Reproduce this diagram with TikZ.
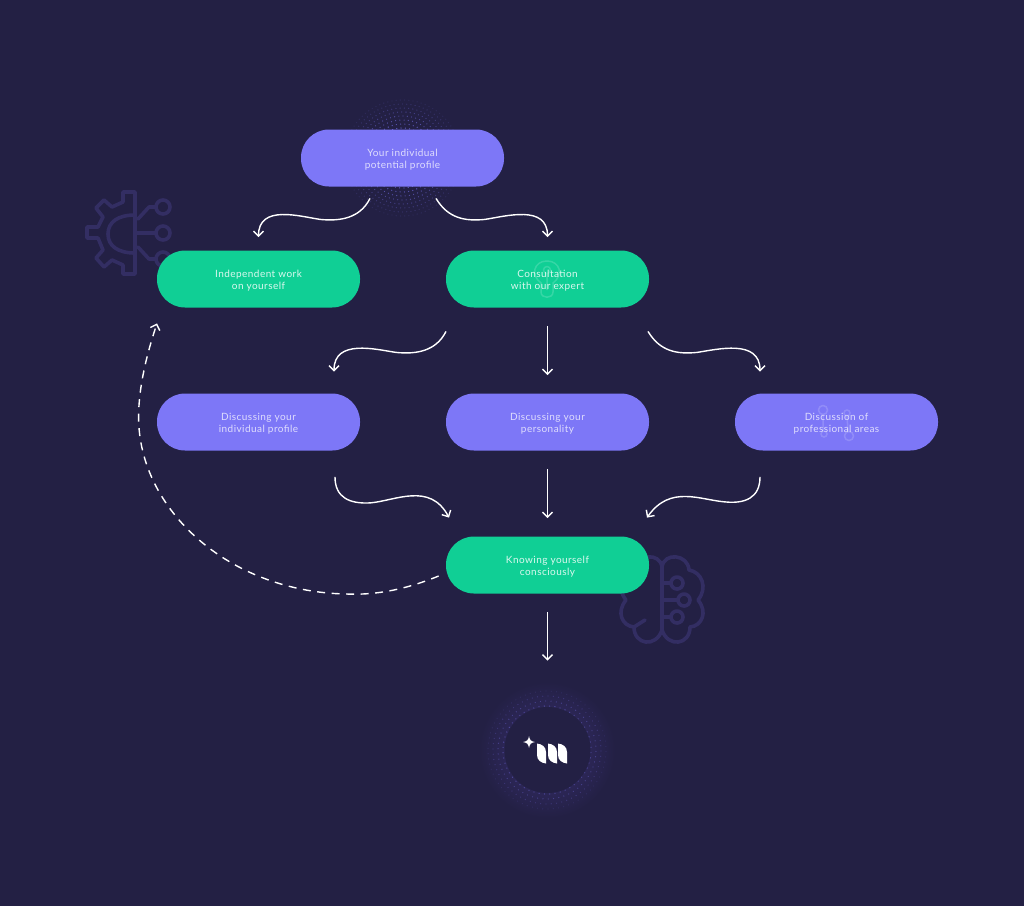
\documentclass[tikz,border=0pt]{standalone}
\usepackage{fontspec}
\setmainfont[LetterSpace=4.5]{Lato}
\usetikzlibrary{arrows.meta}
\definecolor{bgdark}{HTML}{232044}
\definecolor{lilac}{HTML}{7D77F7}
\definecolor{mint}{HTML}{10CF95}
\definecolor{icondark}{HTML}{332E63}
\definecolor{glow}{HTML}{3A3074}
\newcommand{\wvl}[2]{\draw[flow] (#1) .. controls +(-10,20) and +(20,2) .. ++(-50,21) .. controls +(-20,-3) and +(0,-33) .. (#2); }
\newcommand{\wvr}[2]{\draw[flow] (#1) .. controls +(12,20) and +(-20,2) .. ++(49,21) .. controls +(20,-3) and +(0,-33) .. (#2); }
\newcommand{\halo}[4]{\foreach \rad/\cnt in {#3} {
    \pgfmathsetmacro{\op}{#4*(1-(\rad-28)/36)}
    \pgfmathsetmacro{\stp}{360/\cnt}
    \foreach \a in {1,...,\cnt} \fill[lilac,opacity=\op] (#1,#2) ++({\a*\stp+\rad*7}:\rad) circle (0.65);
  } }
\begin{document}
\begin{tikzpicture}[x=1pt,y=-1pt,>={Straight Barb[length=5pt,width=10pt]},thick,
  every node/.style={font=\fontsize{10}{12}\selectfont,align=center},
  pill/.style={rounded corners=28pt,minimum width=203pt,minimum height=57pt,inner sep=0pt,execute at begin node={\rule{0pt}{22pt}}},
  violet/.style={pill,fill=lilac,text=lilac!25!white},
  green/.style={pill,fill=mint,text=mint!15!white},
  flow/.style={->,white,line width=1.4pt},
  back/.style={->,white,line width=1.4pt,dash pattern=on 8pt off 6.5pt},
  icon/.style={icondark,line width=3.6pt,line join=round,line cap=round},
  ghost/.style={line width=1.5pt,white,opacity=0.16}]
  \useasboundingbox (0,0) rectangle (1024,906);
  \fill[bgdark] (0,0) rectangle (1024,906);
  % dots behind the first box
  \halo{402.5}{158}{30/44,34/50,38/56,42/62,46/68,50/74,54/80,58/86}{0.75}
  % glow round the logo
  \shade[inner color=glow,outer color=bgdark] (547,750) circle (68);
  \halo{547}{750}{44/52,49/58,54/64,59/70}{0.85}
  % gear
  \draw[icon] (135,192) -- (123,192) -- (123,202) -- (112,207) -- (104,200) -- (96,208) -- (103,217) -- (98,227) -- (87,227) -- (87,238) -- (98,238) -- (103,250) -- (96,258) -- (104,267) -- (112,260) -- (123,265) -- (123,274) -- (135,274) -- cycle;
  \draw[icon] (135,215) .. controls (118,215) and (108,222) .. (108,234) .. controls (108,246) and (118,253) .. (135,253);
  \draw[icon] (135,233) -- (156,233) (138,219) -- (149,207) -- (156,207) (138,247) -- (149,259) -- (156,259);
  \foreach \y in {207,233,259} \draw[icon] (163,\y) circle (7);
  % brain
  \draw[icon] (662,567) -- (662,630) (662,567) .. controls (664,552) and (688,554) .. (689,570) .. controls (702,572) and (708,588) .. (698,600) .. controls (708,612) and (702,626) .. (690,627) .. controls (690,645) and (668,648) .. (662,630);
  \draw[icon] (662,567) .. controls (660,552) and (636,554) .. (635,570) .. controls (622,572) and (616,588) .. (626,600) .. controls (616,612) and (622,626) .. (634,627) .. controls (634,645) and (656,648) .. (662,630);
  \draw[icon] (634,627) -- (645,620);
  \draw[icon] (662,583) -- (671,583) (662,600) -- (678,600) (662,617) -- (671,617);
  \draw[icon] (677,583) circle (6) (684,600) circle (6) (677,617) circle (6);

  \node[violet] (top) at (402.5,158) {Your individual\\potential profile};
  \node[green] (work) at (258.5,279) {Independent work\\on yourself};
  \node[green,right of=work,node distance=289pt] (consult) {Consultation\\with our expert};
  \node[violet,below of=work,node distance=143pt] (profile) {Discussing your\\individual profile};
  \node[violet,below of=consult,node distance=143pt] (person) {Discussing your\\personality};
  \node[violet,right of=person,node distance=289pt] (areas) {Discussion of\\professional areas};
  \node[green,below of=person,node distance=143pt] (know) {Knowing yourself\\consciously};
  \node[circle,fill=bgdark,minimum size=86pt,inner sep=0pt] (logo) at (547.5,750) {};

  % faint icons inside the boxes
  \draw[ghost] (541,292) -- (541,283) .. controls (530,275) and (534,261) .. (547,261) .. controls (560,261) and (564,275) .. (553,283) -- (553,292) .. controls (553,299) and (541,299) .. (541,292) -- cycle;
  \draw[ghost] (547,270) circle (3.5) (547,274) -- (547,290);
  \draw[ghost] (823,410) circle (4.5) (847,413) circle (3) (824,434) circle (3) (849,436) circle (4.5) (823,415) -- (823,431) (847,416) -- (848,431);

  \wvl{[xshift=-32.5pt,yshift=-11.5pt]top.south}{[yshift=13pt]work.north}
  \wvr{[xshift=33.5pt,yshift=-11.5pt]top.south}{[yshift=13pt]consult.north}
  \wvl{[xshift=-101.5pt,yshift=-23.5pt]consult.south}{[xshift=75.5pt,yshift=21.5pt]profile.north}
  \wvr{[xshift=100.5pt,yshift=-23.5pt]consult.south}{[xshift=-76.5pt,yshift=21.5pt]areas.north}
  \draw[flow,shorten <=18pt,shorten >=18pt] (consult) -- (person);
  \draw[flow,shorten <=18pt,shorten >=18pt] (person) -- (know);
  \draw[flow,shorten <=18pt,shorten >=46pt] (know) -- (logo);
  \draw[flow] ([xshift=76.5pt,yshift=-26pt]profile.south) .. controls +(0,21) and +(-20,1) .. ++(35,26) .. controls +(25,-2) and +(-19,-36) .. ([xshift=-98.5pt,yshift=18.5pt]know.north);
  \draw[flow] ([xshift=-76.5pt,yshift=-26pt]areas.south) .. controls +(0,21) and +(20,2) .. ++(-35,25) .. controls +(-25,-2) and +(23,-33) .. ([xshift=99.5pt,yshift=18.5pt]know.north);
  \draw[back] ([xshift=-7pt,yshift=-11pt]know.west) .. controls +(-39,16) and +(23,1) .. ++(-92,18) .. controls +(-117,-2) and +(0,93) .. ++(-208,-177) .. controls +(0,-32) and +(-9,27) .. ([xshift=-101.5pt,yshift=-15.5pt]work.south);

  % logo
  \fill[white] (529,736) .. controls (529.6,740) and (531,741.4) .. (535,742) .. controls (531,742.6) and (529.6,744) .. (529,748) .. controls (528.4,744) and (527,742.6) .. (523,742) .. controls (527,741.4) and (528.4,740) .. (529,736) -- cycle;
  \foreach \x in {537,548,558} \fill[white] (\x,743.5) .. controls (\x+5,744) and (\x+9,747) .. (\x+9,752) -- (\x+9,763.5) .. controls (\x+4,763) and (\x,760) .. (\x,755) -- cycle;
\end{tikzpicture}
\end{document}
